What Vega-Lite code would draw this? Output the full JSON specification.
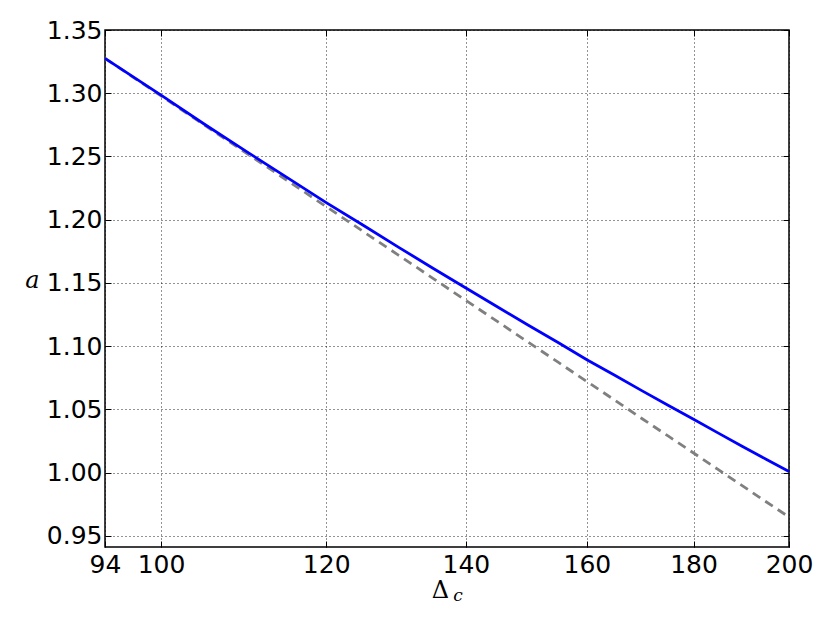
{
  "$schema": "https://vega.github.io/schema/vega-lite/v6.json",
  "width": 684,
  "height": 517,
  "autosize": {"type": "none"},
  "padding": {"left": 105, "top": 30, "right": 41, "bottom": 80},
  "background": "white",
  "config": {
    "view": {"stroke": "black", "strokeWidth": 1.5},
    "axis": {
      "labelFont": "DejaVu Sans",
      "labelFontSize": 25,
      "labelColor": "black",
      "domain": false,
      "ticks": true,
      "tickSize": -6,
      "tickColor": "black",
      "tickWidth": 1,
      "gridColor": "black",
      "gridDash": [1, 3],
      "gridWidth": 1,
      "gridOpacity": 0.85
    }
  },
  "resolve": {"axis": {"x": "independent", "y": "independent"}},
  "datasets": {
    "curves": [
      {"delta": 94, "a": 1.3276, "series": "exact"},
      {"delta": 100, "a": 1.2985, "series": "exact"},
      {"delta": 105, "a": 1.2751, "series": "exact"},
      {"delta": 110, "a": 1.2535, "series": "exact"},
      {"delta": 115, "a": 1.2331, "series": "exact"},
      {"delta": 120, "a": 1.2135, "series": "exact"},
      {"delta": 125, "a": 1.1956, "series": "exact"},
      {"delta": 130, "a": 1.1782, "series": "exact"},
      {"delta": 135, "a": 1.1617, "series": "exact"},
      {"delta": 140, "a": 1.1460, "series": "exact"},
      {"delta": 145, "a": 1.1310, "series": "exact"},
      {"delta": 150, "a": 1.1166, "series": "exact"},
      {"delta": 155, "a": 1.1029, "series": "exact"},
      {"delta": 160, "a": 1.0893, "series": "exact"},
      {"delta": 165, "a": 1.0771, "series": "exact"},
      {"delta": 170, "a": 1.0649, "series": "exact"},
      {"delta": 175, "a": 1.0533, "series": "exact"},
      {"delta": 180, "a": 1.0423, "series": "exact"},
      {"delta": 185, "a": 1.0313, "series": "exact"},
      {"delta": 190, "a": 1.0207, "series": "exact"},
      {"delta": 195, "a": 1.0107, "series": "exact"},
      {"delta": 200, "a": 1.0010, "series": "exact"},
      {"delta": 94, "a": 1.3276, "series": "approx"},
      {"delta": 100, "a": 1.2979, "series": "approx"},
      {"delta": 105, "a": 1.2744, "series": "approx"},
      {"delta": 110, "a": 1.2521, "series": "approx"},
      {"delta": 115, "a": 1.2308, "series": "approx"},
      {"delta": 120, "a": 1.2104, "series": "approx"},
      {"delta": 125, "a": 1.1907, "series": "approx"},
      {"delta": 130, "a": 1.1719, "series": "approx"},
      {"delta": 135, "a": 1.1537, "series": "approx"},
      {"delta": 140, "a": 1.1362, "series": "approx"},
      {"delta": 145, "a": 1.1194, "series": "approx"},
      {"delta": 150, "a": 1.1031, "series": "approx"},
      {"delta": 155, "a": 1.0874, "series": "approx"},
      {"delta": 160, "a": 1.0721, "series": "approx"},
      {"delta": 165, "a": 1.0574, "series": "approx"},
      {"delta": 170, "a": 1.0429, "series": "approx"},
      {"delta": 175, "a": 1.0291, "series": "approx"},
      {"delta": 180, "a": 1.0156, "series": "approx"},
      {"delta": 185, "a": 1.0024, "series": "approx"},
      {"delta": 190, "a": 0.9896, "series": "approx"},
      {"delta": 195, "a": 0.9771, "series": "approx"},
      {"delta": 200, "a": 0.9650, "series": "approx"}
    ],
    "sub": [{"delta": 138.8, "a": 0.8985, "t": "c"}]
  },
  "layer": [
    {
      "data": {"name": "curves"},
      "transform": [{"filter": "datum.series === 'approx'"}],
      "mark": {"type": "line", "color": "#808080", "strokeWidth": 2.8, "strokeDash": [9, 6]},
      "encoding": {
        "x": {
          "field": "delta", "type": "quantitative",
          "scale": {"type": "log", "domain": [94, 200], "nice": false, "zero": false},
          "axis": {
            "values": [94, 100, 120, 140, 160, 180, 200],
            "format": "d",
            "labelPadding": 11,
            "labelFlush": false,
            "title": "Δ",
            "titleFont": "DejaVu Serif",
            "titleFontSize": 24,
            "titleFontWeight": "normal",
            "titleColor": "black",
            "titleX": 335,
            "titleY": 50,
            "titleBaseline": "alphabetic"
          }
        },
        "y": {
          "field": "a", "type": "quantitative",
          "scale": {"domain": [0.9413, 1.35], "nice": false, "zero": false},
          "axis": {
            "values": [0.95, 1.0, 1.05, 1.1, 1.15, 1.2, 1.25, 1.3, 1.35],
            "format": ".2f",
            "labelPadding": 9,
            "title": "a",
            "titleFont": "DejaVu Serif",
            "titleFontStyle": "italic",
            "titleFontSize": 24,
            "titleFontWeight": "normal",
            "titleColor": "black",
            "titleAngle": 0,
            "titleX": -73,
            "titleY": 250,
            "titleBaseline": "middle",
            "titleAlign": "center"
          }
        }
      }
    },
    {
      "data": {"name": "curves"},
      "transform": [{"filter": "datum.series === 'exact'"}],
      "mark": {"type": "line", "color": "#0000ff", "strokeWidth": 2.8},
      "encoding": {
        "x": {
          "field": "delta", "type": "quantitative",
          "axis": {"orient": "top", "values": [94, 100, 120, 140, 160, 180, 200], "labels": false, "grid": false, "title": null}
        },
        "y": {
          "field": "a", "type": "quantitative",
          "axis": {"orient": "right", "values": [0.95, 1.0, 1.05, 1.1, 1.15, 1.2, 1.25, 1.3, 1.35], "labels": false, "grid": false, "title": null}
        }
      }
    },
    {
      "data": {"name": "sub"},
      "mark": {"type": "text", "font": "DejaVu Serif", "fontStyle": "italic", "fontSize": 17, "color": "black", "baseline": "alphabetic", "align": "center", "clip": false},
      "encoding": {
        "x": {"field": "delta", "type": "quantitative", "axis": null},
        "y": {"field": "a", "type": "quantitative", "axis": null},
        "text": {"field": "t"}
      }
    }
  ]
}
